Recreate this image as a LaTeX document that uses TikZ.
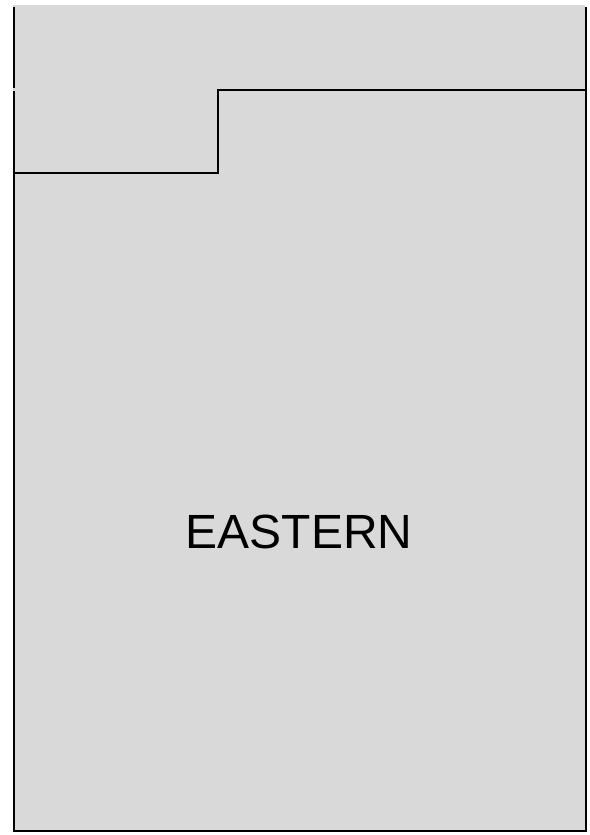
\documentclass[tikz,border=0pt]{standalone}
\usepackage{fontspec}
\setmainfont{Liberation Sans}
\usepackage{xcolor}
\usetikzlibrary{positioning}
\definecolor{plangray}{HTML}{D9D9D9}

\begin{document}
\begin{tikzpicture}[
			x=1pt, y=-1pt,
			wall/.style={draw=black, line width=1.7pt},
			label/.style={font=\fontsize{48}{56}\selectfont, inner sep=0pt}
			]
			\useasboundingbox (0,0) rectangle (589,835);
			\fill[plangray] (13,5) rectangle (585,832);
			% outer walls
			\draw[wall] (14,7) -- (14,88);
			\draw[wall] (14,91) -- (14,831) -- (586,831) -- (586,7);
			% step between the two zones
			\draw[wall] (14,173) -- (218,173) -- (218,90) -- (587,90);
			\node[label] (eastern) at (299,532) {EASTERN};
		\end{tikzpicture}
\end{document}
